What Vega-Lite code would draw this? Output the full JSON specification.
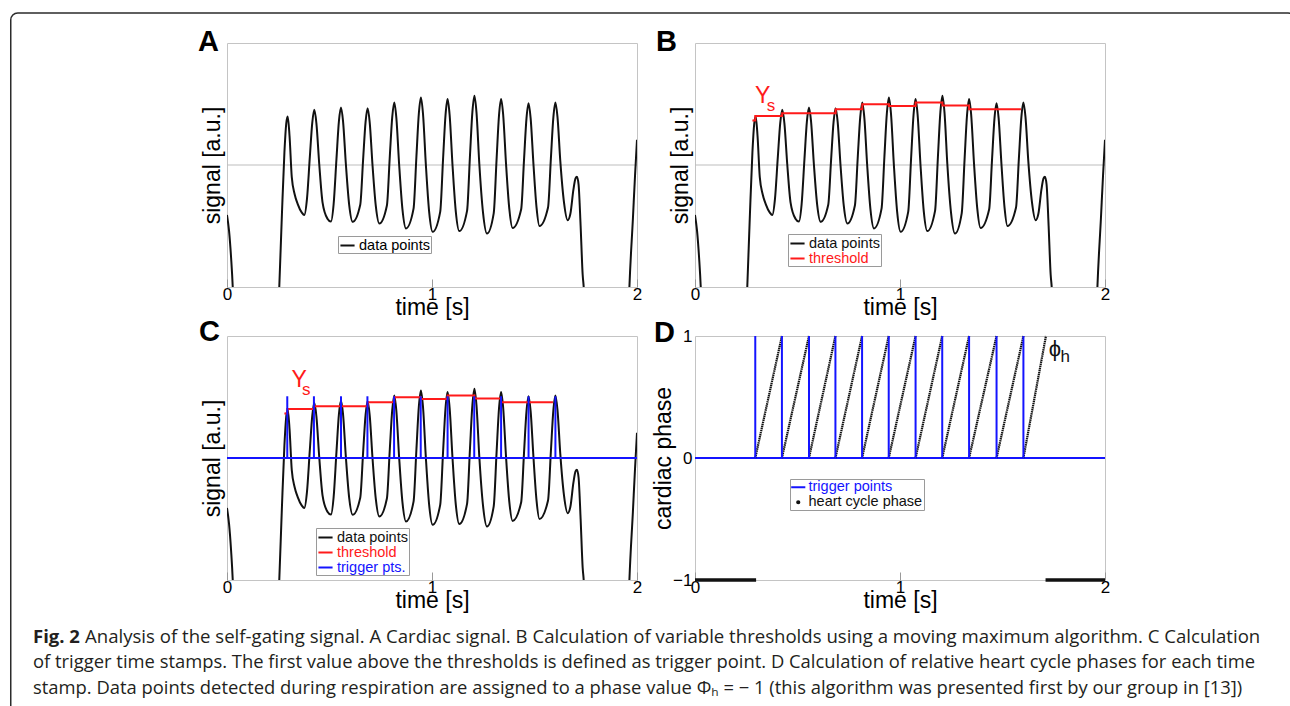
{
  "$schema": "https://vega.github.io/schema/vega-lite/v6.json",
  "padding": {"left": 9, "top": 11, "right": 0, "bottom": 0},
  "background": "white",
  "config": {
    "font": "Liberation Sans",
    "view": {"stroke": "#c4c4c4", "strokeWidth": 1},
    "axis": {"grid": false, "titleFontWeight": "normal", "titleColor": "#000", "labelColor": "#000", "domain": false},
    "legend": {"strokeColor": "#9a9a9a", "fillColor": "#ffffff", "padding": 1, "labelFontSize": 14.5, "labelFont": "Liberation Sans", "symbolType": "stroke", "symbolSize": 200, "symbolStrokeWidth": 2, "rowPadding": 0, "labelOffset": 3, "cornerRadius": 0}
  },
  "datasets": {
    "signal": [
      {"t": 0.000, "v": 29.5}, {"t": 0.010, "v": 23}, {"t": 0.020, "v": 12}, {"t": 0.028, "v": 0}, {"t": 0.036, "v": -20},
      {"t": 0.245, "v": -20}, {"t": 0.255, "v": 0}, {"t": 0.268, "v": 30}, {"t": 0.280, "v": 55}, {"t": 0.289, "v": 67}, {"t": 0.296, "v": 69.9},
      {"t": 0.305, "v": 62}, {"t": 0.316, "v": 45}, {"t": 0.330, "v": 38}, {"t": 0.345, "v": 34}, {"t": 0.365, "v": 30.5}, {"t": 0.377, "v": 29.5},
      {"t": 0.390, "v": 36.0}, {"t": 0.404, "v": 53.2}, {"t": 0.416, "v": 67.4}, {"t": 0.426, "v": 72.6}, {"t": 0.436, "v": 67.2}, {"t": 0.450, "v": 50.3}, {"t": 0.466, "v": 34.7}, {"t": 0.490, "v": 28.0}, {"t": 0.507, "v": 26.8},
      {"t": 0.520, "v": 33.8}, {"t": 0.534, "v": 52.5}, {"t": 0.546, "v": 68.0}, {"t": 0.556, "v": 73.6}, {"t": 0.566, "v": 68.0}, {"t": 0.580, "v": 50.2}, {"t": 0.596, "v": 33.7}, {"t": 0.613, "v": 26.7},
      {"t": 0.650, "v": 33.7}, {"t": 0.664, "v": 52.3}, {"t": 0.676, "v": 67.7}, {"t": 0.686, "v": 73.3}, {"t": 0.696, "v": 67.6}, {"t": 0.710, "v": 49.7}, {"t": 0.726, "v": 33.1}, {"t": 0.743, "v": 26.0},
      {"t": 0.780, "v": 33.4}, {"t": 0.794, "v": 53.3}, {"t": 0.806, "v": 69.6}, {"t": 0.816, "v": 75.6}, {"t": 0.826, "v": 69.4}, {"t": 0.840, "v": 49.8}, {"t": 0.856, "v": 31.7}, {"t": 0.873, "v": 24.0},
      {"t": 0.910, "v": 32.1}, {"t": 0.924, "v": 53.5}, {"t": 0.936, "v": 71.3}, {"t": 0.946, "v": 77.7}, {"t": 0.956, "v": 71.1}, {"t": 0.970, "v": 50.2}, {"t": 0.986, "v": 30.9}, {"t": 1.003, "v": 22.6},
      {"t": 1.040, "v": 30.8}, {"t": 1.054, "v": 52.5}, {"t": 1.066, "v": 70.5}, {"t": 1.076, "v": 77.0}, {"t": 1.086, "v": 70.5}, {"t": 1.100, "v": 50.0}, {"t": 1.116, "v": 31.0}, {"t": 1.133, "v": 22.9},
      {"t": 1.171, "v": 31.2}, {"t": 1.185, "v": 53.4}, {"t": 1.197, "v": 71.7}, {"t": 1.207, "v": 78.4}, {"t": 1.217, "v": 71.6}, {"t": 1.231, "v": 50.2}, {"t": 1.249, "v": 30.4}, {"t": 1.268, "v": 21.9},
      {"t": 1.301, "v": 30.2}, {"t": 1.315, "v": 52.3}, {"t": 1.327, "v": 70.5}, {"t": 1.337, "v": 77.1}, {"t": 1.347, "v": 70.8}, {"t": 1.361, "v": 50.7}, {"t": 1.377, "v": 32.1}, {"t": 1.393, "v": 24.2},
      {"t": 1.435, "v": 31.9}, {"t": 1.449, "v": 52.3}, {"t": 1.461, "v": 69.2}, {"t": 1.471, "v": 75.3}, {"t": 1.481, "v": 69.3}, {"t": 1.495, "v": 50.2}, {"t": 1.510, "v": 32.5}, {"t": 1.524, "v": 25.0},
      {"t": 1.566, "v": 32.6}, {"t": 1.580, "v": 52.8}, {"t": 1.592, "v": 69.5}, {"t": 1.602, "v": 75.6}, {"t": 1.612, "v": 69.8}, {"t": 1.626, "v": 51.5}, {"t": 1.644, "v": 34.6}, {"t": 1.662, "v": 27.4},
      {"t": 1.675, "v": 30}, {"t": 1.690, "v": 40}, {"t": 1.700, "v": 44.5}, {"t": 1.707, "v": 45.2}, {"t": 1.715, "v": 42}, {"t": 1.725, "v": 25}, {"t": 1.735, "v": 5}, {"t": 1.740, "v": 0}, {"t": 1.750, "v": -20},
      {"t": 1.955, "v": -20}, {"t": 1.963, "v": 0}, {"t": 1.980, "v": 28}, {"t": 1.990, "v": 45}, {"t": 2.000, "v": 60.3}
    ],
    "threshold": [
      {"t": 0.280, "v": 68.2}, {"t": 0.294, "v": 70.1}, {"t": 0.425, "v": 71.2}, {"t": 0.686, "v": 72.8}, {"t": 0.816, "v": 74.9},
      {"t": 0.946, "v": 74.2}, {"t": 1.076, "v": 75.6}, {"t": 1.207, "v": 74.4}, {"t": 1.337, "v": 72.8}, {"t": 1.590, "v": 72.8}
    ],
    "triggers": [
      {"t": 0.294}, {"t": 0.424}, {"t": 0.556}, {"t": 0.685}, {"t": 0.815}, {"t": 0.945},
      {"t": 1.076}, {"t": 1.206}, {"t": 1.337}, {"t": 1.471}, {"t": 1.602}
    ],
    "ramps": [
      {"t": 0.294, "p": 0, "cycle": 1}, {"t": 0.424, "p": 1, "cycle": 1},
      {"t": 0.424, "p": 0, "cycle": 2}, {"t": 0.556, "p": 1, "cycle": 2},
      {"t": 0.556, "p": 0, "cycle": 3}, {"t": 0.685, "p": 1, "cycle": 3},
      {"t": 0.685, "p": 0, "cycle": 4}, {"t": 0.815, "p": 1, "cycle": 4},
      {"t": 0.815, "p": 0, "cycle": 5}, {"t": 0.945, "p": 1, "cycle": 5},
      {"t": 0.945, "p": 0, "cycle": 6}, {"t": 1.076, "p": 1, "cycle": 6},
      {"t": 1.076, "p": 0, "cycle": 7}, {"t": 1.206, "p": 1, "cycle": 7},
      {"t": 1.206, "p": 0, "cycle": 8}, {"t": 1.337, "p": 1, "cycle": 8},
      {"t": 1.337, "p": 0, "cycle": 9}, {"t": 1.471, "p": 1, "cycle": 9},
      {"t": 1.471, "p": 0, "cycle": 10}, {"t": 1.602, "p": 1, "cycle": 10},
      {"t": 1.602, "p": 0, "cycle": 11}, {"t": 1.712, "p": 1, "cycle": 11}
    ],
    "resp": [
      {"t": 0.0, "p": -1, "seg": 1}, {"t": 0.298, "p": -1, "seg": 1},
      {"t": 1.710, "p": -1, "seg": 2}, {"t": 2.0, "p": -1, "seg": 2}
    ]
  },
  "resolve": {"scale": {"color": "independent"}, "legend": {"color": "independent"}},
  "bounds": "flush",
  "columns": 2,
  "spacing": {"row": 49, "column": 58},
  "concat": [
    {
      "width": 410, "height": 244,
      "layer": [
        {"data": {"values": [{"k": 0}]}, "mark": {"type": "rect", "fill": "transparent", "stroke": "#2b2b2b", "strokeWidth": 1.5, "cornerRadiusTopLeft": 7, "cornerRadiusTopRight": 7, "clip": false},
         "encoding": {
           "x": {"datum": -1.05488, "type": "quantitative", "scale": {"domain": [0, 2], "nice": false}},
           "x2": {"datum": 5.2098},
           "y": {"datum": 112.3, "type": "quantitative", "scale": {"domain": [0, 100], "nice": false, "zero": false}},
           "y2": {"datum": -176}
         }},
        {"data": {"values": [{"k": 0}]}, "mark": {"type": "rule", "color": "#bdbdbd", "strokeWidth": 1},
         "encoding": {"y": {"datum": 50, "type": "quantitative"}}},
        {"data": {"name": "signal"}, "mark": {"type": "line", "clip": true, "strokeWidth": 2, "interpolate": "monotone"},
         "encoding": {
           "x": {"field": "t", "type": "quantitative", "scale": {"domain": [0, 2], "nice": false},
             "axis": {"title": "time [s]", "tickCount": 2, "labelFlush": false, "labelFontSize": 17, "titleFontSize": 23, "tickSize": -8, "tickColor": "#999", "labelPadding": 7, "titlePadding": -6}},
           "y": {"field": "v", "type": "quantitative", "scale": {"domain": [0, 100], "nice": false, "zero": false},
             "axis": {"title": "signal [a.u.]", "labels": false, "ticks": false, "titleFontSize": 23, "titlePadding": 3}},
           "color": {"datum": "data points", "scale": {"domain": ["data points"], "range": ["#111111"]},
             "legend": {"title": null, "orient": "none", "legendX": 111, "legendY": 193}}
         }},
        {"data": {"values": [{"label": "A"}]}, "mark": {"type": "text", "fontSize": 29, "fontWeight": "bold", "color": "#000", "baseline": "alphabetic", "align": "left", "clip": false},
         "encoding": {"x": {"datum": -0.14146, "type": "quantitative"}, "y": {"datum": 96.52, "type": "quantitative"}, "text": {"field": "label"}}}
      ]
    },
    {
      "width": 410, "height": 244,
      "layer": [
        {"data": {"values": [{"k": 0}]}, "mark": {"type": "rule", "color": "#bdbdbd", "strokeWidth": 1},
         "encoding": {"y": {"datum": 50, "type": "quantitative", "scale": {"domain": [0, 100], "nice": false, "zero": false},
           "axis": {"title": "signal [a.u.]", "labels": false, "ticks": false, "titleFontSize": 23, "titlePadding": 3}}}},
        {"data": {"name": "signal"}, "mark": {"type": "line", "clip": true, "strokeWidth": 2, "interpolate": "monotone"},
         "encoding": {
           "x": {"field": "t", "type": "quantitative", "scale": {"domain": [0, 2], "nice": false},
             "axis": {"title": "time [s]", "tickCount": 2, "labelFlush": false, "labelFontSize": 17, "titleFontSize": 23, "tickSize": -8, "tickColor": "#999", "labelPadding": 7, "titlePadding": -6}},
           "y": {"field": "v", "type": "quantitative", "scale": {"domain": [0, 100], "nice": false, "zero": false},
             "axis": {"title": "signal [a.u.]", "labels": false, "ticks": false, "titleFontSize": 23, "titlePadding": 3}},
           "color": {"datum": "data points", "scale": {"domain": ["data points", "threshold"], "range": ["#111111", "#ff1a1a"]},
             "legend": {"title": null, "orient": "none", "legendX": 93, "legendY": 191,
               "encode": {"labels": {"update": {"fill": {"signal": "datum.value === 'threshold' ? '#ff1a1a' : '#111111'"}}}}}}
         }},
        {"data": {"name": "threshold"}, "mark": {"type": "line", "strokeWidth": 2, "interpolate": "step-after"},
         "encoding": {
           "x": {"field": "t", "type": "quantitative"},
           "y": {"field": "v", "type": "quantitative"},
           "color": {"datum": "threshold"}
         }},
        {"data": {"values": [{"label": "Y"}]}, "mark": {"type": "text", "fontSize": 23, "color": "#ff1a1a", "baseline": "middle", "align": "center"},
         "encoding": {"x": {"datum": 0.33, "type": "quantitative"}, "y": {"datum": 78.3, "type": "quantitative"}, "text": {"field": "label"}}},
        {"data": {"values": [{"label": "s"}]}, "mark": {"type": "text", "fontSize": 17, "color": "#ff1a1a", "baseline": "middle", "align": "center"},
         "encoding": {"x": {"datum": 0.371, "type": "quantitative"}, "y": {"datum": 74.2, "type": "quantitative"}, "text": {"field": "label"}}},
        {"data": {"values": [{"label": "B"}]}, "mark": {"type": "text", "fontSize": 29, "fontWeight": "bold", "color": "#000", "baseline": "alphabetic", "align": "left", "clip": false},
         "encoding": {"x": {"datum": -0.19024, "type": "quantitative"}, "y": {"datum": 96.72, "type": "quantitative"}, "text": {"field": "label"}}}
      ]
    },
    {
      "width": 410, "height": 244,
      "layer": [
        {"data": {"name": "signal"}, "mark": {"type": "line", "clip": true, "strokeWidth": 2, "interpolate": "monotone"},
         "encoding": {
           "x": {"field": "t", "type": "quantitative", "scale": {"domain": [0, 2], "nice": false},
             "axis": {"title": "time [s]", "tickCount": 2, "labelFlush": false, "labelFontSize": 17, "titleFontSize": 23, "tickSize": -8, "tickColor": "#999", "labelPadding": 7, "titlePadding": -6}},
           "y": {"field": "v", "type": "quantitative", "scale": {"domain": [0, 100], "nice": false, "zero": false},
             "axis": {"title": "signal [a.u.]", "labels": false, "ticks": false, "titleFontSize": 23, "titlePadding": 3}},
           "color": {"datum": "data points", "scale": {"domain": ["data points", "threshold", "trigger pts."], "range": ["#111111", "#ff1a1a", "#1414ff"]},
             "legend": {"title": null, "orient": "none", "legendX": 89, "legendY": 192,
               "encode": {"labels": {"update": {"fill": {"signal": "datum.value === 'threshold' ? '#ff1a1a' : datum.value === 'trigger pts.' ? '#1414ff' : '#111111'"}}}}}}
         }},
        {"data": {"name": "threshold"}, "mark": {"type": "line", "strokeWidth": 2, "interpolate": "step-after"},
         "encoding": {
           "x": {"field": "t", "type": "quantitative"},
           "y": {"field": "v", "type": "quantitative"},
           "color": {"datum": "threshold"}
         }},
        {"data": {"values": [{"k": 0}]}, "mark": {"type": "rule", "strokeWidth": 2},
         "encoding": {"y": {"datum": 50, "type": "quantitative"}, "color": {"datum": "trigger pts."}}},
        {"data": {"name": "triggers"}, "mark": {"type": "rule", "strokeWidth": 2},
         "encoding": {
           "x": {"field": "t", "type": "quantitative"},
           "y": {"datum": 50, "type": "quantitative"},
           "y2": {"datum": 75.3},
           "color": {"datum": "trigger pts."}
         }},
        {"data": {"values": [{"label": "Y"}]}, "mark": {"type": "text", "fontSize": 23, "color": "#ff1a1a", "baseline": "middle", "align": "center"},
         "encoding": {"x": {"datum": 0.352, "type": "quantitative"}, "y": {"datum": 82.1, "type": "quantitative"}, "text": {"field": "label"}}},
        {"data": {"values": [{"label": "s"}]}, "mark": {"type": "text", "fontSize": 17, "color": "#ff1a1a", "baseline": "middle", "align": "center"},
         "encoding": {"x": {"datum": 0.386, "type": "quantitative"}, "y": {"datum": 78.0, "type": "quantitative"}, "text": {"field": "label"}}},
        {"data": {"values": [{"label": "C"}]}, "mark": {"type": "text", "fontSize": 29, "fontWeight": "bold", "color": "#000", "baseline": "alphabetic", "align": "left", "clip": false},
         "encoding": {"x": {"datum": -0.13659, "type": "quantitative"}, "y": {"datum": 97.95, "type": "quantitative"}, "text": {"field": "label"}}},
        {"data": {"values": [{"label": "Fig. 2"}]}, "mark": {"type": "text", "font": "Open Sans", "fontSize": 18.5, "fontWeight": "bold", "color": "#231f20", "baseline": "middle", "align": "left", "clip": false},
         "encoding": {"x": {"datum": -0.94634, "type": "quantitative"}, "y": {"datum": -23.36, "type": "quantitative"}, "text": {"field": "label"}}},
        {"data": {"values": [{"label": "Analysis of the self-gating signal. A Cardiac signal. B Calculation of variable thresholds using a moving maximum algorithm. C Calculation"}]},
         "mark": {"type": "text", "font": "Open Sans", "fontSize": 18.6, "color": "#231f20", "baseline": "middle", "align": "left", "dx": 52, "clip": false},
         "encoding": {"x": {"datum": -0.94634, "type": "quantitative"}, "y": {"datum": -23.36, "type": "quantitative"}, "text": {"field": "label"}}},
        {"data": {"values": [{"label": "of trigger time stamps. The first value above the thresholds is defined as trigger point. D Calculation of relative heart cycle phases for each time"}]},
         "mark": {"type": "text", "font": "Open Sans", "fontSize": 18.4, "color": "#231f20", "baseline": "middle", "align": "left", "clip": false},
         "encoding": {"x": {"datum": -0.94634, "type": "quantitative"}, "y": {"datum": -33.81, "type": "quantitative"}, "text": {"field": "label"}}},
        {"data": {"values": [{"label": "stamp. Data points detected during respiration are assigned to a phase value Φₕ = − 1 (this algorithm was presented first by our group in [13])"}]},
         "mark": {"type": "text", "font": "Open Sans", "fontSize": 18.4, "color": "#231f20", "baseline": "middle", "align": "left", "clip": false},
         "encoding": {"x": {"datum": -0.94634, "type": "quantitative"}, "y": {"datum": -44.26, "type": "quantitative"}, "text": {"field": "label"}}}
      ]
    },
    {
      "width": 410, "height": 244,
      "layer": [
        {"data": {"values": [{"k": 0}]}, "mark": {"type": "rule", "strokeWidth": 2},
         "encoding": {"y": {"datum": 0, "type": "quantitative", "scale": {"domain": [-1, 1], "nice": false, "zero": false},
           "axis": {"title": "cardiac phase", "tickCount": 2, "labelFlush": false, "labelFontSize": 17, "ticks": false, "labelPadding": 3, "titleFontSize": 23, "titlePadding": -3}},
           "color": {"datum": "trigger points", "scale": {"domain": ["trigger points", "heart cycle phase"], "range": ["#1414ff", "#111111"]},
             "legend": {"title": null, "orient": "none", "legendX": 95, "legendY": 143,
               "encode": {
                 "labels": {"update": {"fill": {"signal": "datum.value === 'trigger points' ? '#1414ff' : '#111111'"}}},
                 "symbols": {"update": {"shape": {"signal": "datum.value === 'trigger points' ? 'stroke' : 'circle'"}, "size": {"signal": "datum.value === 'trigger points' ? 200 : 5"}, "fill": {"signal": "datum.value === 'trigger points' ? 'transparent' : '#111111'"}}}
               }}}}},
        {"data": {"name": "ramps"}, "mark": {"type": "line", "strokeWidth": 2.2, "strokeDash": [1.5, 0.6]},
         "encoding": {
           "x": {"field": "t", "type": "quantitative", "scale": {"domain": [0, 2], "nice": false},
             "axis": {"title": "time [s]", "tickCount": 2, "labelFlush": false, "labelFontSize": 17, "titleFontSize": 23, "tickSize": -8, "tickColor": "#999", "labelPadding": 7, "titlePadding": -6}},
           "y": {"field": "p", "type": "quantitative"},
           "detail": {"field": "cycle"},
           "color": {"datum": "heart cycle phase"}
         }},
        {"data": {"name": "resp"}, "mark": {"type": "line", "strokeWidth": 3.5},
         "encoding": {
           "x": {"field": "t", "type": "quantitative"},
           "y": {"field": "p", "type": "quantitative"},
           "detail": {"field": "seg"},
           "color": {"datum": "heart cycle phase"}
         }},
        {"data": {"name": "triggers"}, "mark": {"type": "rule", "strokeWidth": 2},
         "encoding": {
           "x": {"field": "t", "type": "quantitative"},
           "y": {"datum": 0, "type": "quantitative"},
           "y2": {"datum": 1},
           "color": {"datum": "trigger points"}
         }},
        {"data": {"values": [{"label": "ϕ"}]}, "mark": {"type": "text", "fontSize": 22, "color": "#111", "baseline": "middle", "align": "center"},
         "encoding": {"x": {"datum": 1.756, "type": "quantitative"}, "y": {"datum": 0.89, "type": "quantitative"}, "text": {"field": "label"}}},
        {"data": {"values": [{"label": "h"}]}, "mark": {"type": "text", "fontSize": 17, "color": "#111", "baseline": "middle", "align": "center"},
         "encoding": {"x": {"datum": 1.806, "type": "quantitative"}, "y": {"datum": 0.83, "type": "quantitative"}, "text": {"field": "label"}}},
        {"data": {"values": [{"label": "D"}]}, "mark": {"type": "text", "fontSize": 29, "fontWeight": "bold", "color": "#000", "baseline": "alphabetic", "align": "left", "clip": false},
         "encoding": {"x": {"datum": -0.2, "type": "quantitative"}, "y": {"datum": 0.9508, "type": "quantitative"}, "text": {"field": "label"}}}
      ]
    }
  ]
}
